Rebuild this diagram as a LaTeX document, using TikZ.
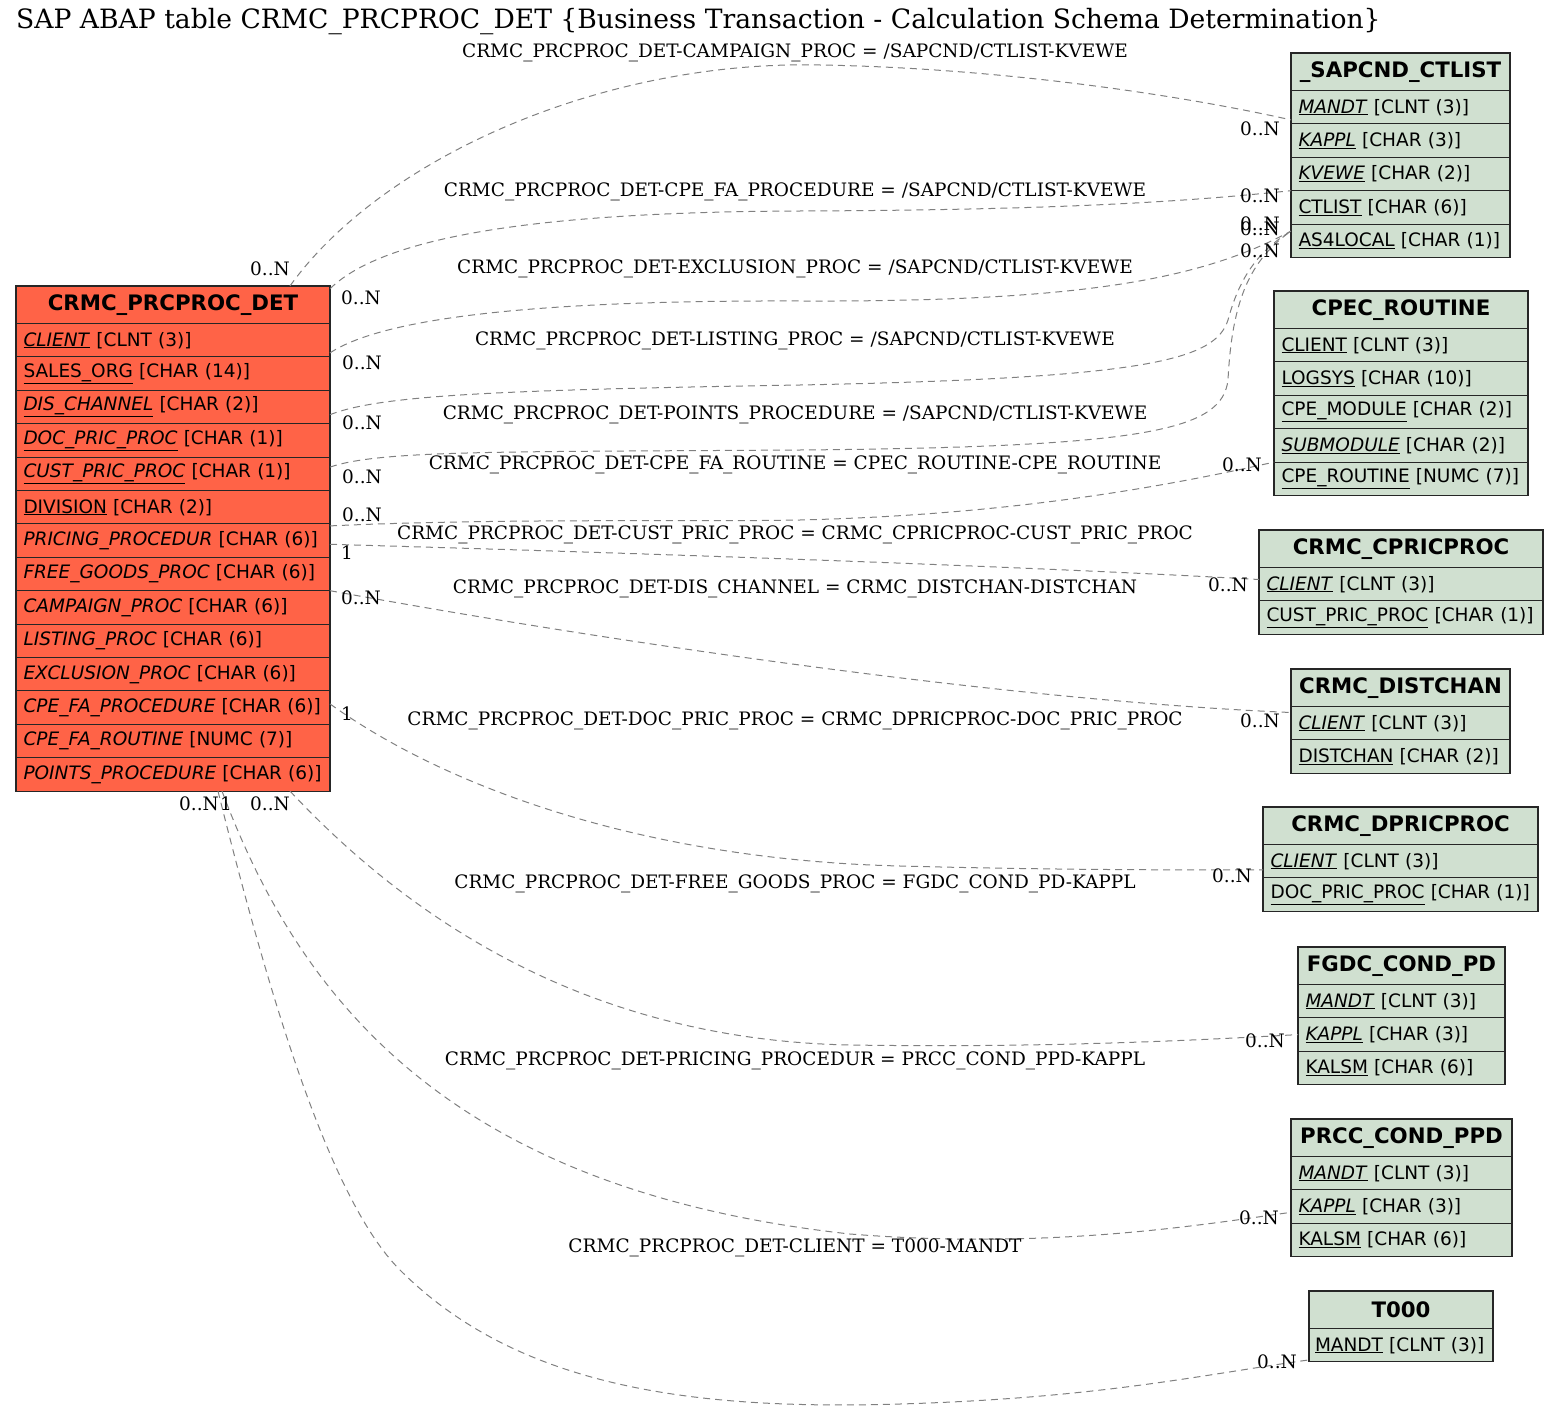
\documentclass[tikz,border=0pt]{standalone}
\usepackage{fontspec}
\setmainfont{DejaVu Serif}
\newfontfamily\tblfont{DejaVu Sans}
\usetikzlibrary{positioning}
\definecolor{detred}{RGB}{255,99,71}
\definecolor{refgreen}{RGB}{208,224,208}
\tikzset{
  tabhead/.style={draw=black!85, line width=1.1pt, fill=#1, outer sep=0pt, inner sep=0pt,
    minimum height=37.5pt, font=\tblfont\bfseries\fontsize{21.3}{24}\selectfont},
  tabrow/.style={draw=black!85, line width=1.1pt, fill=#1, outer sep=0pt, inner xsep=7.5pt,
    inner ysep=0pt, minimum height=33.4pt, align=left, font=\tblfont\fontsize{18.5}{21}\selectfont},
  rel/.style={draw=gray, line width=1pt, dash pattern=on 7pt off 5pt},
  rellabel/.style={inner sep=0pt, font=\fontsize{18.5}{21}\selectfont},
  card/.style={inner sep=0pt, font=\fontsize{18.5}{21}\selectfont},
}

\begin{document}
\begin{tikzpicture}[x=1pt, y=-1pt]
\useasboundingbox (0,0) rectangle (1559,1410);

\node[anchor=west, inner sep=0pt, font=\fontsize{26.6}{30}\selectfont] (title) at (16,22)
  {SAP ABAP table CRMC\_PRCPROC\_DET \{Business Transaction - Calculation Schema Determination\}};

% main table
\node[tabhead=detred, minimum width=314pt, anchor=north west] (det) at (16,286) {CRMC\_PRCPROC\_DET};
\node[tabrow=detred, text width=299pt, below=0pt of det] (det-1) {\underline{\textit{CLIENT}} [CLNT (3)]};
\node[tabrow=detred, text width=299pt, below=0pt of det-1] (det-2) {\underline{SALES\_ORG} [CHAR (14)]};
\node[tabrow=detred, text width=299pt, below=0pt of det-2] (det-3) {\underline{\textit{DIS\_CHANNEL}} [CHAR (2)]};
\node[tabrow=detred, text width=299pt, below=0pt of det-3] (det-4) {\underline{\textit{DOC\_PRIC\_PROC}} [CHAR (1)]};
\node[tabrow=detred, text width=299pt, below=0pt of det-4] (det-5) {\underline{\textit{CUST\_PRIC\_PROC}} [CHAR (1)]};
\node[tabrow=detred, text width=299pt, below=0pt of det-5] (det-6) {\underline{DIVISION} [CHAR (2)]};
\node[tabrow=detred, text width=299pt, below=0pt of det-6] (det-7) {\textit{PRICING\_PROCEDUR} [CHAR (6)]};
\node[tabrow=detred, text width=299pt, below=0pt of det-7] (det-8) {\textit{FREE\_GOODS\_PROC} [CHAR (6)]};
\node[tabrow=detred, text width=299pt, below=0pt of det-8] (det-9) {\textit{CAMPAIGN\_PROC} [CHAR (6)]};
\node[tabrow=detred, text width=299pt, below=0pt of det-9] (det-10) {\textit{LISTING\_PROC} [CHAR (6)]};
\node[tabrow=detred, text width=299pt, below=0pt of det-10] (det-11) {\textit{EXCLUSION\_PROC} [CHAR (6)]};
\node[tabrow=detred, text width=299pt, below=0pt of det-11] (det-12) {\textit{CPE\_FA\_PROCEDURE} [CHAR (6)]};
\node[tabrow=detred, text width=299pt, below=0pt of det-12] (det-13) {\textit{CPE\_FA\_ROUTINE} [NUMC (7)]};
\node[tabrow=detred, text width=299pt, below=0pt of det-13] (det-14) {\textit{POINTS\_PROCEDURE} [CHAR (6)]};

% _SAPCND_CTLIST
\node[tabhead=refgreen, minimum width=219pt, anchor=north west] (ctl) at (1291,53) {\_SAPCND\_CTLIST};
\node[tabrow=refgreen, text width=204pt, below=0pt of ctl] (ctl-1) {\underline{\textit{MANDT}} [CLNT (3)]};
\node[tabrow=refgreen, text width=204pt, below=0pt of ctl-1] (ctl-2) {\underline{\textit{KAPPL}} [CHAR (3)]};
\node[tabrow=refgreen, text width=204pt, below=0pt of ctl-2] (ctl-3) {\underline{\textit{KVEWE}} [CHAR (2)]};
\node[tabrow=refgreen, text width=204pt, below=0pt of ctl-3] (ctl-4) {\underline{CTLIST} [CHAR (6)]};
\node[tabrow=refgreen, text width=204pt, below=0pt of ctl-4] (ctl-5) {\underline{AS4LOCAL} [CHAR (1)]};

% CPEC_ROUTINE
\node[tabhead=refgreen, minimum width=254pt, anchor=north west] (cpec) at (1274,291) {CPEC\_ROUTINE};
\node[tabrow=refgreen, text width=239pt, below=0pt of cpec] (cpec-1) {\underline{CLIENT} [CLNT (3)]};
\node[tabrow=refgreen, text width=239pt, below=0pt of cpec-1] (cpec-2) {\underline{LOGSYS} [CHAR (10)]};
\node[tabrow=refgreen, text width=239pt, below=0pt of cpec-2] (cpec-3) {\underline{CPE\_MODULE} [CHAR (2)]};
\node[tabrow=refgreen, text width=239pt, below=0pt of cpec-3] (cpec-4) {\underline{\textit{SUBMODULE}} [CHAR (2)]};
\node[tabrow=refgreen, text width=239pt, below=0pt of cpec-4] (cpec-5) {\underline{CPE\_ROUTINE} [NUMC (7)]};

% CRMC_CPRICPROC
\node[tabhead=refgreen, minimum width=284pt, anchor=north west] (cpric) at (1259,530) {CRMC\_CPRICPROC};
\node[tabrow=refgreen, text width=269pt, below=0pt of cpric] (cpric-1) {\underline{\textit{CLIENT}} [CLNT (3)]};
\node[tabrow=refgreen, text width=269pt, below=0pt of cpric-1] (cpric-2) {\underline{CUST\_PRIC\_PROC} [CHAR (1)]};

% CRMC_DISTCHAN
\node[tabhead=refgreen, minimum width=219pt, anchor=north west] (dist) at (1291,669) {CRMC\_DISTCHAN};
\node[tabrow=refgreen, text width=204pt, below=0pt of dist] (dist-1) {\underline{\textit{CLIENT}} [CLNT (3)]};
\node[tabrow=refgreen, text width=204pt, below=0pt of dist-1] (dist-2) {\underline{DISTCHAN} [CHAR (2)]};

% CRMC_DPRICPROC
\node[tabhead=refgreen, minimum width=275pt, anchor=north west] (dpric) at (1263,807) {CRMC\_DPRICPROC};
\node[tabrow=refgreen, text width=260pt, below=0pt of dpric] (dpric-1) {\underline{\textit{CLIENT}} [CLNT (3)]};
\node[tabrow=refgreen, text width=260pt, below=0pt of dpric-1] (dpric-2) {\underline{DOC\_PRIC\_PROC} [CHAR (1)]};

% FGDC_COND_PD
\node[tabhead=refgreen, minimum width=207pt, anchor=north west] (fgdc) at (1298,947) {FGDC\_COND\_PD};
\node[tabrow=refgreen, text width=192pt, below=0pt of fgdc] (fgdc-1) {\underline{\textit{MANDT}} [CLNT (3)]};
\node[tabrow=refgreen, text width=192pt, below=0pt of fgdc-1] (fgdc-2) {\underline{\textit{KAPPL}} [CHAR (3)]};
\node[tabrow=refgreen, text width=192pt, below=0pt of fgdc-2] (fgdc-3) {\underline{KALSM} [CHAR (6)]};

% PRCC_COND_PPD
\node[tabhead=refgreen, minimum width=221pt, anchor=north west] (prcc) at (1291,1119) {PRCC\_COND\_PPD};
\node[tabrow=refgreen, text width=206pt, below=0pt of prcc] (prcc-1) {\underline{\textit{MANDT}} [CLNT (3)]};
\node[tabrow=refgreen, text width=206pt, below=0pt of prcc-1] (prcc-2) {\underline{\textit{KAPPL}} [CHAR (3)]};
\node[tabrow=refgreen, text width=206pt, below=0pt of prcc-2] (prcc-3) {\underline{KALSM} [CHAR (6)]};

% T000
\node[tabhead=refgreen, minimum width=184pt, anchor=north west] (t000) at (1309,1291) {T000};
\node[tabrow=refgreen, inner xsep=6pt, text width=172pt, below=0pt of t000] (t000-1) {\underline{MANDT} [CLNT (3)]};

% relations
\draw[rel] ([xshift=-40pt]det.north east) .. controls (380,160) and (600,60) .. (820,65)
  .. controls (1000,68) and (1180,95) .. ([yshift=4pt]ctl-2.north west);
\draw[rel] ([yshift=16pt]det.east) .. controls (380,240) and (520,212) .. (800,211)
  .. controls (1080,210) and (1200,200) .. (ctl-4.north west);
\draw[rel] ([yshift=4pt]det-2.north east) .. controls (380,320) and (520,300) .. (800,301)
  .. controls (1080,302) and (1200,280) .. ([yshift=-7pt]ctl-5.north west);
\draw[rel] ([yshift=9pt]det-3.south east) .. controls (380,395) and (500,390) .. (800,385)
  .. controls (1150,378) and (1215,360) .. (1228,320) .. controls (1240,275) and (1260,250) .. ([yshift=-7pt]ctl-5.north west);
\draw[rel] ([yshift=-10pt]det-5.north east) .. controls (380,450) and (500,452) .. (800,450)
  .. controls (1150,447) and (1222,430) .. (1228,380) .. controls (1232,300) and (1250,260) .. ([yshift=-7pt]ctl-5.north west);
\draw[rel] ([yshift=-2pt]det-6.south east) .. controls (500,518) and (700,522) .. (800,520)
  .. controls (1000,515) and (1150,490) .. (cpec-5.north west);
\draw[rel] ([yshift=13pt]det-7.south east) .. controls (600,552) and (1000,565) .. ([yshift=-12pt]cpric-1.north west);
\draw[rel] (det-9.north east) .. controls (600,640) and (1000,700) .. ([yshift=-6pt]dist-1.north west);
\draw[rel] ([yshift=-13pt]det-12.north east) .. controls (450,790) and (650,860) .. (900,866)
  .. controls (1050,870) and (1180,870) .. ([yshift=8pt]dpric-1.south west);
\draw[rel] ([xshift=-40pt]det-14.south east) .. controls (420,930) and (600,1040) .. (850,1045)
  .. controls (1050,1048) and (1200,1040) .. (fgdc-2.west);
\draw[rel] ([xshift=-108pt]det-14.south east) .. controls (300,1000) and (450,1190) .. (850,1234)
  .. controls (1050,1250) and (1200,1225) .. ([yshift=11pt]prcc-2.south west);
\draw[rel] ([xshift=-112pt]det-14.south east) .. controls (270,1000) and (330,1200) .. (400,1270)
  .. controls (520,1390) and (700,1410) .. (900,1404) .. controls (1100,1398) and (1200,1375) .. ([yshift=2pt]t000-1.south west);

% relation labels
\node[rellabel] (l-camp) at (795,53) {CRMC\_PRCPROC\_DET-CAMPAIGN\_PROC = /SAPCND/CTLIST-KVEWE};
\node[rellabel] (l-fapr) at (795,192) {CRMC\_PRCPROC\_DET-CPE\_FA\_PROCEDURE = /SAPCND/CTLIST-KVEWE};
\node[rellabel] (l-excl) at (795,269) {CRMC\_PRCPROC\_DET-EXCLUSION\_PROC = /SAPCND/CTLIST-KVEWE};
\node[rellabel] (l-list) at (795,341) {CRMC\_PRCPROC\_DET-LISTING\_PROC = /SAPCND/CTLIST-KVEWE};
\node[rellabel] (l-pnts) at (795,415) {CRMC\_PRCPROC\_DET-POINTS\_PROCEDURE = /SAPCND/CTLIST-KVEWE};
\node[rellabel] (l-fart) at (795,465) {CRMC\_PRCPROC\_DET-CPE\_FA\_ROUTINE = CPEC\_ROUTINE-CPE\_ROUTINE};
\node[rellabel] (l-cust) at (795,535) {CRMC\_PRCPROC\_DET-CUST\_PRIC\_PROC = CRMC\_CPRICPROC-CUST\_PRIC\_PROC};
\node[rellabel] (l-dis) at (795,589) {CRMC\_PRCPROC\_DET-DIS\_CHANNEL = CRMC\_DISTCHAN-DISTCHAN};
\node[rellabel] (l-doc) at (795,721) {CRMC\_PRCPROC\_DET-DOC\_PRIC\_PROC = CRMC\_DPRICPROC-DOC\_PRIC\_PROC};
\node[rellabel] (l-free) at (795,884) {CRMC\_PRCPROC\_DET-FREE\_GOODS\_PROC = FGDC\_COND\_PD-KAPPL};
\node[rellabel] (l-pric) at (795,1061) {CRMC\_PRCPROC\_DET-PRICING\_PROCEDUR = PRCC\_COND\_PPD-KAPPL};
\node[rellabel] (l-clnt) at (795,1248) {CRMC\_PRCPROC\_DET-CLIENT = T000-MANDT};

% cardinalities
\node[card] (c-camp-a) at (270,269) {0..N};
\node[card] (c-camp-b) at (1260,129) {0..N};
\node[card] (c-fapr-a) at (361,298) {0..N};
\node[card] (c-fapr-b) at (1260,196) {0..N};
\node[card] (c-excl-a) at (362,363) {0..N};
\node[card] (c-excl-b) at (1260,224) {0..N};
\node[card] (c-list-a) at (362,423) {0..N};
\node[card] (c-list-b) at (1260,251) {0..N};
\node[card] (c-pnts-a) at (362,477) {0..N};
\node[card] (c-pnts-b) at (1260,229) {0..N};
\node[card] (c-fart-a) at (362,515) {0..N};
\node[card] (c-fart-b) at (1242,465) {0..N};
\node[card] (c-cust-a) at (347,553) {1};
\node[card] (c-cust-b) at (1228,585) {0..N};
\node[card] (c-dis-a) at (361,598) {0..N};
\node[card] (c-dis-b) at (1260,721) {0..N};
\node[card] (c-doc-a) at (347,714) {1};
\node[card] (c-doc-b) at (1232,876) {0..N};
\node[card] (c-free-a) at (270,804) {0..N};
\node[card] (c-free-b) at (1265,1041) {0..N};
\node[card] (c-pric-a) at (226,804) {1};
\node[card] (c-pric-b) at (1259,1218) {0..N};
\node[card] (c-clnt-a) at (199,804) {0..N};
\node[card] (c-clnt-b) at (1277,1362) {0..N};
\end{tikzpicture}
\end{document}
